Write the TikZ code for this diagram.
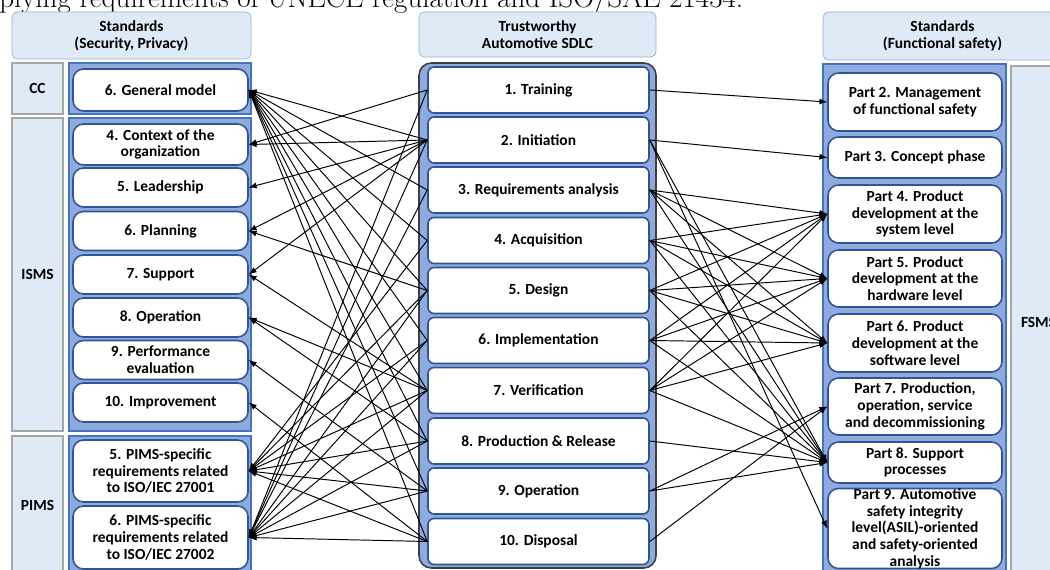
\documentclass[tikz,border=0pt]{standalone}
\usepackage{fontspec}
\newfontfamily\boxfont{Carlito}
\usetikzlibrary{arrows}
\definecolor{hdrblue}{RGB}{222,234,246}
\definecolor{hdrline}{RGB}{150,172,210}
\definecolor{grpblue}{RGB}{143,170,220}
\definecolor{grpline}{RGB}{68,114,196}
\definecolor{itemline}{RGB}{47,85,151}
\definecolor{labline}{RGB}{166,166,166}
\newdimen\px \px=0.02cm

\begin{document}
\begin{tikzpicture}[x=\px,y=-\px]
\tikzset{every node/.style={font=\boxfont\bfseries\fontsize{8.8}{9.5}\selectfont,align=center,inner sep=0pt}}
\tikzset{hdr/.style={draw=hdrline,fill=hdrblue,rounded corners=3pt}}
\tikzset{lab/.style={draw=labline,fill=hdrblue,line width=0.8pt}}
\tikzset{grp/.style={draw=grpline,fill=grpblue,line width=0.7pt}}
\tikzset{item/.style={draw=itemline,fill=white,line width=0.9pt,rounded corners=6pt,minimum width=175\px}}
\tikzset{phase/.style={draw=itemline,fill=white,line width=0.9pt,rounded corners=3.5pt,minimum width=221\px,minimum height=46\px}}
\tikzset{part/.style={item,minimum width=174\px}}
\tikzset{link/.style={-latex,line width=0.55pt}}

\useasboundingbox (0,0) rectangle (1050,570);
\clip (0,0) rectangle (1050,570);

\node[anchor=base west,font=\fontsize{16.5}{19}\selectfont] (cap) at (-1,7.5) {plying requirements of UNECE regulation and ISO/SAE 21434.};

% headers
\node[hdr,minimum width=239\px,minimum height=47\px] (lhdr) at (131.5,35.5) {Standards\\(Security, Privacy)};
\node[hdr,minimum width=237\px,minimum height=45\px] (mhdr) at (537.5,34.5) {Trustworthy\\Automotive SDLC};
\node[hdr,minimum width=239\px,minimum height=48\px] (rhdr) at (942.5,36) {Standards\\(Functional safety)};

% left side
\node[lab,minimum width=51\px,minimum height=51\px] (cc) at (37.5,88.5) {CC};
\node[lab,minimum width=51\px,minimum height=313\px] (isms) at (37.5,274.5) {ISMS};
\node[lab,minimum width=51\px,minimum height=139\px] (pims) at (37.5,505.5) {PIMS};
\draw[grp] (69,63) rectangle (251,114);
\draw[grp] (69,118) rectangle (251,431);
\draw[grp] (69,436) rectangle (251,576);

\node[item,minimum height=42\px] (gm) at (160.5,90) {6. General model};
\node[item,minimum height=41\px] (ctx) at (160.5,144.5) {4. Context of the\\organization};
\node[item,minimum height=39\px] (lead) at (160.5,187.5) {5. Leadership};
\node[item,minimum height=39\px] (plan) at (160.5,231) {6. Planning};
\node[item,minimum height=39\px] (supp) at (160.5,274.5) {7. Support};
\node[item,minimum height=39\px] (oper) at (160.5,317.5) {8. Operation};
\node[item,minimum height=39\px] (perf) at (160.5,360) {9. Performance\\evaluation};
\node[item,minimum height=39\px] (impr) at (160.5,402.5) {10. Improvement};
\node[item,minimum height=62\px] (pa) at (160.5,471) {5. PIMS-specific\\requirements related\\to ISO/IEC 27001};
\node[item,minimum height=63\px] (pb) at (160.5,537.5) {6. PIMS-specific\\requirements related\\to ISO/IEC 27002};

% middle
\draw[fill=grpblue,draw=black!75,line width=0.9pt,rounded corners=7pt] (419,63) rectangle (656,568);
\node[phase] (s1) at (538.5,90) {1. Training};
\node[phase] (s2) at (538.5,140) {2. Initiation};
\node[phase] (s3) at (538.5,190) {3. Requirements analysis};
\node[phase] (s4) at (538.5,240.5) {4. Acquisition};
\node[phase] (s5) at (538.5,290.5) {5. Design};
\node[phase] (s6) at (538.5,340.5) {6. Implementation};
\node[phase] (s7) at (538.5,390.5) {7. Verification};
\node[phase] (s8) at (538.5,441) {8. Production \& Release};
\node[phase] (s9) at (538.5,491) {9. Operation};
\node[phase] (s10) at (538.5,541.5) {10. Disposal};

% right side
\node[lab,minimum width=55\px,minimum height=512\px] (fsms) at (1038.5,322) {FSMS};
\draw[grp] (823,64) rectangle (1006,576);
\node[part,minimum height=58\px] (f2) at (915,102) {Part 2. Management\\of functional safety};
\node[part,minimum height=41\px] (f3) at (915,157.5) {Part 3. Concept phase};
\node[part,minimum height=58\px] (f4) at (915,214) {Part 4. Product\\development at the\\system level};
\node[part,minimum height=57\px] (f5) at (915,278.5) {Part 5. Product\\development at the\\hardware level};
\node[part,minimum height=58\px] (f6) at (915,343) {Part 6. Product\\development at the\\software level};
\node[part,minimum height=57\px] (f7) at (915,406.5) {Part 7. Production,\\operation, service\\and decommissioning};
\node[part,minimum height=41\px] (f8) at (915,462.5) {Part 8. Support\\processes};
\node[part,minimum height=79\px] (f9) at (915,528.5) {Part 9. Automotive\\safety integrity\\level(ASIL)-oriented\\and safety-oriented\\analysis};

% mapping to security / privacy standards
\foreach \s/\t in {s1/ctx,s1/pb,s2/gm,s2/ctx,s2/lead,s2/plan,s2/supp,s2/pb,
  s3/gm,s3/pb,s4/gm,s4/pa,s5/gm,s5/plan,s5/pa,s5/pb,s6/gm,s6/pa,s6/pb,
  s7/gm,s7/supp,s7/oper,s7/pa,s7/pb,s8/gm,s8/oper,s8/pa,s8/pb,
  s9/gm,s9/perf,s9/pa,s9/pb,s10/gm,s10/impr,s10/pa,s10/pb}
  \draw[link] (\s.west) -- (\t.east);

% mapping to functional safety
\foreach \s/\t in {s1/f2,s2/f3,s2/f8,s2/f9,s3/f4,s3/f5,s3/f6,s3/f8,
  s4/f4,s4/f5,s4/f6,s4/f8,s5/f4,s5/f5,s5/f6,s5/f8,s6/f4,s6/f5,s6/f6,s6/f8,
  s7/f4,s7/f5,s7/f6,s7/f8,s8/f8,s9/f7,s9/f8,s10/f7}
  \draw[link] (\s.east) -- (\t.west);

\end{tikzpicture}
\end{document}
